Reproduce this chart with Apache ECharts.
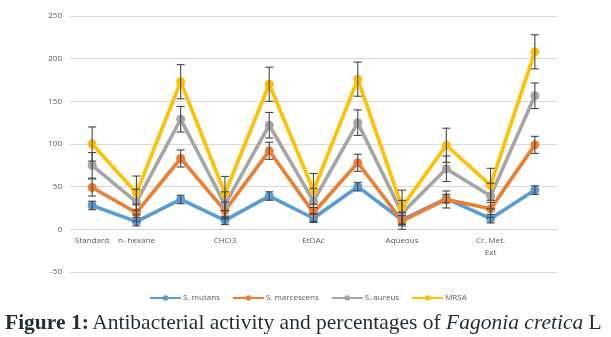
<!DOCTYPE html>
<html>
<head>
<meta charset="utf-8">
<script src="https://cdn.jsdelivr.net/npm/echarts@6/dist/echarts.min.js"></script>
<style>
  html, body { margin: 0; padding: 0; background: #fff; }
  #chart { width: 611px; height: 337px; }
</style>
</head>
<body>
<div id="chart"></div>
<script>
// Extract categories (unlabelled points are the percentage columns)
const categories = ['Standard', 'n- hexane', '', 'CHCl3', '', 'EtOAc', '', 'Aqueous', '', 'Cr. Met.\nExt', ''];

const mutans     = [28, 9, 35, 10.5, 39, 13, 50, 11, 36, 12.5, 46];
const marcescens = [49, 19.5, 83, 22, 92, 19.5, 78, 10, 35, 24, 99];
const aureus     = [75, 32, 129, 29, 122, 33, 125, 19, 71, 39, 156.5];
const mrsa       = [100, 42.5, 173, 42, 170, 45.5, 176, 26, 98.5, 51.5, 208];

// Error bar half-widths per series
const errMutans = 5;
const errMarcescens = 10;
const errAureus = 15;
const errMrsa = 20;

const yTicks = { min: -50, max: 250, step: 50 };

const colors = ['#5B9BD5', '#ED7D31', '#A5A5A5', '#FFC000'];
const names = ['S. mutans', 'S. marcescens', 'S. aureus', 'MRSA'];
const values = [mutans, marcescens, aureus, mrsa];
const errs = [errMutans, errMarcescens, errAureus, errMrsa];

const gridTop = 16, gridBottom = 65;
const plotHeight = 337 - gridTop - gridBottom;
// distance from the bottom of the plot (min) up to the zero line
const zeroLift = plotHeight * (0 - yTicks.min) / (yTicks.max - yTicks.min);

function lineSeries(i) {
  return {
    name: names[i],
    type: 'line',
    data: values[i],
    symbol: 'circle',
    symbolSize: 9,
    lineStyle: { width: 3.6, color: colors[i] },
    itemStyle: { color: colors[i] },
    z: 2 + i
  };
}

function errorSeries(i) {
  return {
    type: 'custom',
    name: names[i] + ' error',
    data: values[i].map((v, k) => [k, v - errs[i], v + errs[i]]),
    z: 10,
    silent: true,
    renderItem: function (params, api) {
      const x = api.value(0);
      const lo = api.coord([x, api.value(1)]);
      const hi = api.coord([x, api.value(2)]);
      const cap = 4;
      const style = { stroke: '#454545', lineWidth: 1.1 };
      return {
        type: 'group',
        children: [
          { type: 'line', shape: { x1: hi[0], y1: hi[1], x2: lo[0], y2: lo[1] }, style: style },
          { type: 'line', shape: { x1: hi[0] - cap, y1: hi[1], x2: hi[0] + cap, y2: hi[1] }, style: style },
          { type: 'line', shape: { x1: lo[0] - cap, y1: lo[1], x2: lo[0] + cap, y2: lo[1] }, style: style }
        ]
      };
    },
    encode: { x: 0, y: [1, 2] }
  };
}

const chart = echarts.init(document.getElementById('chart'), null, { renderer: 'canvas' });

const series = [];
for (let i = 0; i < 4; i++) series.push(lineSeries(i));
for (let i = 0; i < 4; i++) series.push(errorSeries(i));

chart.setOption({
  animation: false,
  backgroundColor: '#ffffff',
  grid: { left: 70, right: 54, top: gridTop, bottom: gridBottom },
  legend: {
    data: names,
    top: 289,
    left: 144,
    itemWidth: 31,
    itemHeight: 7,
    itemGap: 12,
    textStyle: { fontFamily: 'Open Sans', fontSize: 8, color: '#595959', padding: [0, 0, 0, -3] }
  },
  xAxis: {
    type: 'category',
    data: categories,
    boundaryGap: true,
    position: 'bottom',
    offset: -zeroLift,
    axisLine: { show: true, onZero: false, lineStyle: { color: '#d9d9d9', width: 1 } },
    axisTick: { show: false },
    axisLabel: {
      interval: 0,
      fontFamily: 'Open Sans',
      fontSize: 8,
      color: '#595959',
      margin: 5,
      lineHeight: 12
    }
  },
  yAxis: {
    type: 'value',
    min: yTicks.min,
    max: yTicks.max,
    interval: yTicks.step,
    axisLine: { show: false },
    axisTick: { show: false },
    axisLabel: {
      fontFamily: 'Open Sans',
      fontSize: 8,
      color: '#595959',
      margin: 8
    },
    splitLine: { lineStyle: { color: '#d9d9d9', width: 1 } }
  },
  graphic: [{
    type: 'text',
    left: 5,
    top: 312,
    style: {
      text: '{b|Figure 1:} {n|Antibacterial activity and percentages of }{i|Fagonia cretica}{n| L}',
      rich: {
        b: { fontFamily: 'Liberation Serif', fontSize: 21.5, fontWeight: 'bold', fill: '#1f2f3a' },
        n: { fontFamily: 'Liberation Serif', fontSize: 21.5, fill: '#1f2f3a' },
        i: { fontFamily: 'Liberation Serif', fontSize: 21.5, fontStyle: 'italic', fill: '#1f2f3a' }
      }
    }
  }],
  series: series
});
</script>
</body>
</html>
